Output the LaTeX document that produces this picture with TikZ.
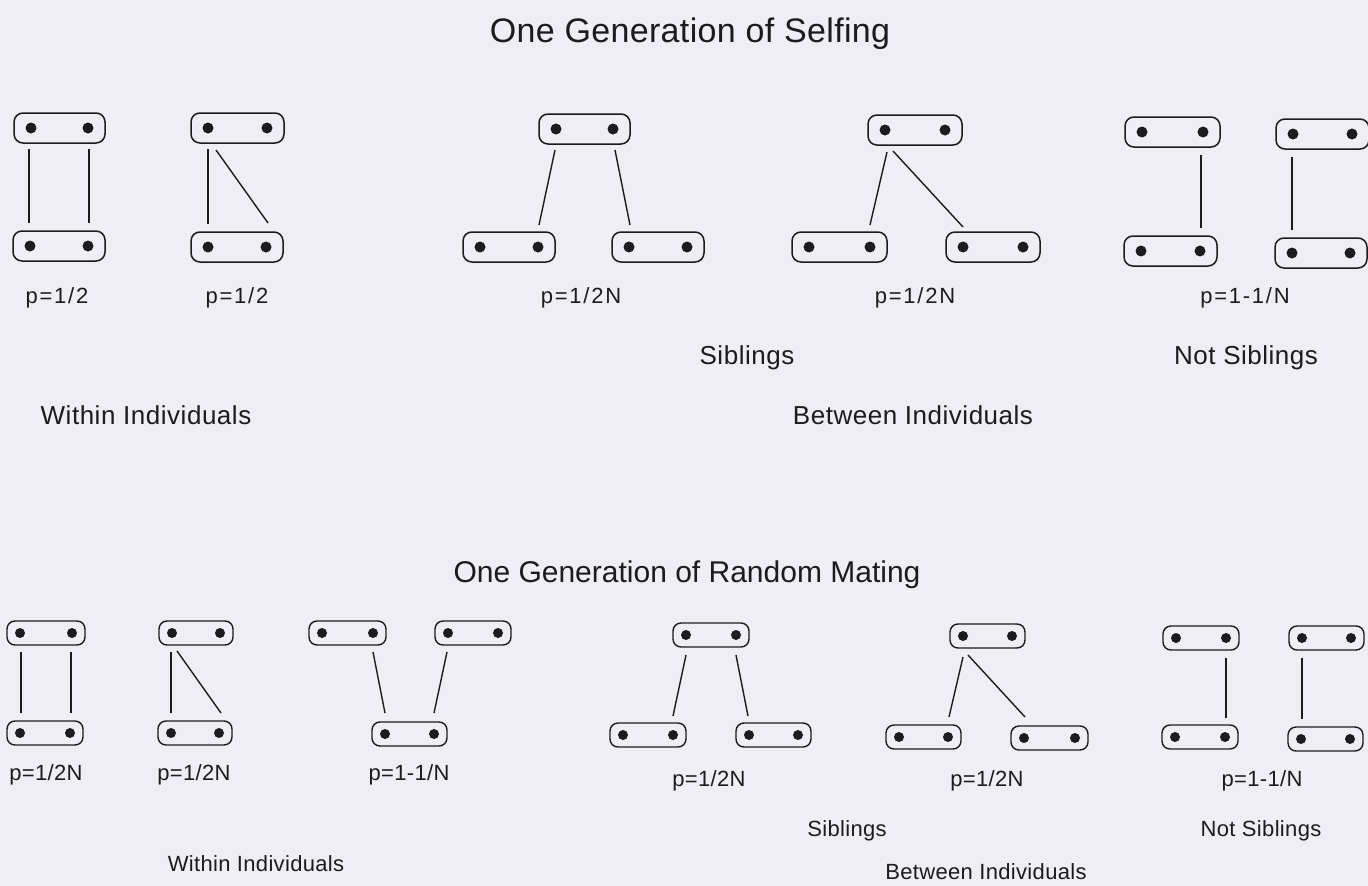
\documentclass[tikz,border=0pt]{standalone}
\usepackage{fontspec}
\setmainfont{Liberation Sans}
\usetikzlibrary{calc}
\definecolor{bg}{HTML}{EEEEF4}
\definecolor{ink}{HTML}{1C1C1E}
\tikzset{
  capA/.style={draw=ink, line width=1.5pt, rounded corners=9pt, minimum height=30pt, inner sep=0pt},
  capB/.style={draw=ink, line width=1.4pt, rounded corners=8pt, minimum height=24pt, inner sep=0pt},
  dotA/.style={circle, fill=ink, minimum size=11pt, inner sep=0pt},
  dotB/.style={circle, fill=ink, minimum size=10pt, inner sep=0pt},
  link/.style={draw=ink, line width=1.4pt},
  ttlA/.style={text=ink, font=\fontsize{34}{40}\selectfont\addfontfeatures{LetterSpace=1}},
  ttlB/.style={text=ink, font=\fontsize{30}{36}\selectfont},
  pA/.style={text=ink, font=\fontsize{22}{26}\selectfont\addfontfeatures{LetterSpace=8}},
  txA/.style={text=ink, font=\fontsize{26}{30}\selectfont\addfontfeatures{LetterSpace=2}},
  pB/.style={text=ink, font=\fontsize{22}{26}\selectfont\addfontfeatures{LetterSpace=1.5}},
  txB/.style={text=ink, inner sep=1pt, font=\fontsize{22}{26}\selectfont\addfontfeatures{LetterSpace=1.5}},
}
% name, x of left dot, x of right dot, y
\newcommand\capsA[4]{%
  \node[capA, minimum width={#3-#2+34}] (#1) at ({(#2+#3)/2},#4) {};
  \node[dotA] (#1-l) at (#2,#4) {};
  \node[dotA] (#1-r) at (#3,#4) {};}
\newcommand\capsB[4]{%
  \node[capB, minimum width={#3-#2+26}] (#1) at ({(#2+#3)/2},#4) {};
  \node[dotB] (#1-l) at (#2,#4) {};
  \node[dotB] (#1-r) at (#3,#4) {};}
\begin{document}
\begin{tikzpicture}[x=1pt,y=-1pt]
\fill[bg] (0,0) rectangle (1368,886);
\useasboundingbox (0,0) rectangle (1368,886);

% ---------------- Selfing ----------------
\node[ttlA] (titleA) at (690,34) {One Generation of Selfing};

% panel 1
\capsA{ta1}{31}{88}{128}
\capsA{ba1}{30}{88}{246}
\draw[link] ($(ta1-l)+(-2,21)$) -- ($(ba1-l)+(-1,-23)$);
\draw[link] ($(ta1-r)+(1,21)$) -- ($(ba1-r)+(1,-23)$);
% panel 2
\capsA{ta2}{208}{267}{128}
\capsA{ba2}{208}{266}{247}
\draw[link] ($(ta2-l)+(0,21)$) -- ($(ba2-l)+(0,-23)$);
\draw[link] ($(ta2-l)+(8,22)$) -- ($(ba2-r)+(2,-24)$);
% panel 3
\capsA{ta3}{556}{613}{129}
\capsA{ba3}{480}{538}{247}
\capsA{ca3}{629}{687}{247}
\draw[link] ($(ta3-l)+(-1,21)$) -- ($(ba3-r)+(1,-22)$);
\draw[link] ($(ta3-r)+(2,21)$) -- ($(ca3-l)+(1,-22)$);
% panel 4
\capsA{ta4}{885}{945}{130}
\capsA{ba4}{809}{870}{247}
\capsA{ca4}{963}{1023}{247}
\draw[link] ($(ta4-l)+(2,22)$) -- ($(ba4-r)+(0,-22)$);
\draw[link] ($(ta4-l)+(8,21)$) -- ($(ca4-l)+(0,-20)$);
% panel 5
\capsA{ta5}{1142}{1203}{132}
\capsA{ba5}{1141}{1200}{251}
\draw[link] ($(ta5-r)+(-2,23)$) -- ($(ba5-r)+(1,-23)$);
\capsA{tb5}{1293}{1352}{134}
\capsA{bb5}{1292}{1350}{253}
\draw[link] ($(tb5-l)+(-1,23)$) -- ($(bb5-l)+(0,-23)$);

\node[pA] (pa1) at (57,298) {p=1/2};
\node[pA] (pa2) at (237,298) {p=1/2};
\node[pA] (pa3) at (581,298) {p=1/2N};
\node[pA] (pa4) at (915,298) {p=1/2N};
\node[pA] (pa5) at (1245,298) {p=1-1/N};
\node[txA] (sibA) at (747,358) {Siblings};
\node[txA] (nsibA) at (1246,358) {Not Siblings};
\node[txA] (withA) at (146,415) {Within Individuals};
\node[txA] (betwA) at (913,415) {Between Individuals};

% ---------------- Random mating ----------------
\node[ttlB] (titleB) at (687,575) {One Generation of Random Mating};

% panel 1
\capsB{tb1}{20}{72}{633}
\capsB{bb1}{20}{70}{733}
\draw[link] ($(tb1-l)+(1,19)$) -- ($(bb1-l)+(1,-20)$);
\draw[link] ($(tb1-r)+(-1,19)$) -- ($(bb1-r)+(1,-20)$);
% panel 2
\capsB{tb2}{172}{220}{633}
\capsB{bb2}{171}{219}{733}
\draw[link] ($(tb2-l)+(-1,19)$) -- ($(bb2-l)+(0,-20)$);
\draw[link] ($(tb2-l)+(5,18)$) -- ($(bb2-r)+(2,-20)$);
% panel 3
\capsB{tb3}{322}{373}{633}
\capsB{tc3}{448}{498}{633}
\capsB{bb3}{385}{434}{734}
\draw[link] ($(tb3-r)+(0,19)$) -- ($(bb3-l)+(0,-21)$);
\draw[link] ($(tc3-l)+(-1,19)$) -- ($(bb3-r)+(0,-21)$);
% panel 4
\capsB{tb4}{686}{736}{635}
\capsB{bb4}{623}{673}{735}
\capsB{cb4}{749}{798}{735}
\draw[link] ($(tb4-l)+(0,20)$) -- ($(bb4-r)+(0,-19)$);
\draw[link] ($(tb4-r)+(0,20)$) -- ($(cb4-l)+(-1,-19)$);
% panel 5
\capsB{tb5}{963}{1012}{636}
\capsB{bb5x}{899}{948}{737}
\capsB{cb5}{1024}{1075}{738}
\draw[link] ($(tb5-l)+(0,21)$) -- ($(bb5x-r)+(1,-20)$);
\draw[link] ($(tb5-l)+(5,19)$) -- ($(cb5-l)+(1,-21)$);
% panel 6
\capsB{tb6}{1176}{1226}{638}
\capsB{bb6}{1175}{1225}{737}
\draw[link] ($(tb6-r)+(0,20)$) -- ($(bb6-r)+(1,-19)$);
\capsB{tc6}{1302}{1351}{638}
\capsB{bc6}{1301}{1350}{739}
\draw[link] ($(tc6-l)+(0,20)$) -- ($(bc6-l)+(1,-20)$);

\node[pB] (pb1) at (46,775) {p=1/2N};
\node[pB] (pb2) at (194,775) {p=1/2N};
\node[pB] (pb3) at (409,775) {p=1-1/N};
\node[pB] (pb4) at (709,781) {p=1/2N};
\node[pB] (pb5) at (987,781) {p=1/2N};
\node[pB] (pb6) at (1262,781) {p=1-1/N};
\node[txB] (sibB) at (847,831) {Siblings};
\node[txB] (nsibB) at (1261,831) {Not Siblings};
\node[txB] (withB) at (256,864) {Within Individuals};
\node[txB] (betwB) at (986,872) {Between Individuals};
\end{tikzpicture}
\end{document}
